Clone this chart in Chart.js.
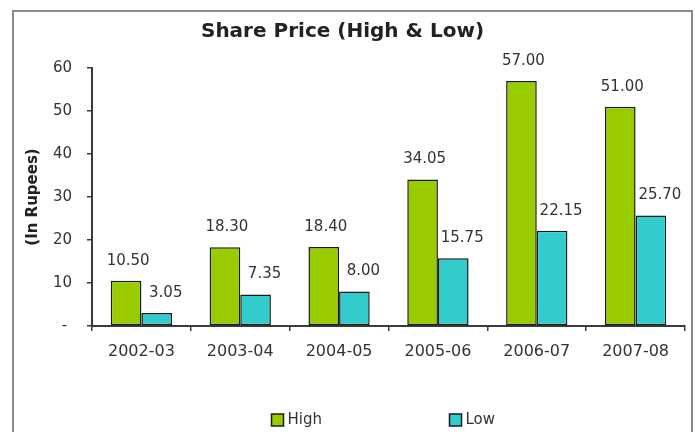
<!DOCTYPE html>
<html>
<head>
<meta charset="utf-8">
<script src="https://cdn.jsdelivr.net/npm/chart.js@4/dist/chart.umd.min.js"></script>
<style>
  html, body { margin: 0; padding: 0; background: #fff; }
</style>
</head>
<body>
<canvas id="chart-share" width="695" height="432"></canvas>
<script>
// ── Share price (High & Low) per financial year, in rupees ──────────────────
const YEARS   = ['2002-03', '2003-04', '2004-05', '2005-06', '2006-07', '2007-08'];
const HIGH    = [10.50, 18.30, 18.40, 34.05, 57.00, 51.00];
const LOW     = [3.05, 7.35, 8.00, 15.75, 22.15, 25.70];
const Y_TICKS = [0, 10, 20, 30, 40, 50, 60];

const FONT = "'DejaVu Sans', sans-serif";
const TEXT = '#333';
const AXIS = '#3a3a3a';

// Grey frame around the whole chart
const framePlugin = {
  id: 'frame',
  beforeDraw(chart) {
    const { ctx } = chart;
    ctx.save();
    ctx.fillStyle = '#fff';
    ctx.fillRect(0, 0, chart.width, chart.height);
    ctx.strokeStyle = '#8a8a8a';
    ctx.lineWidth = 2;
    ctx.strokeRect(13, 11, 679, 440);
    ctx.restore();
  },
};

// Value above every bar (Low labels sit a little to the right, Excel style)
const LABEL_SHIFT = [2, 9];
const valueLabels = {
  id: 'valueLabels',
  afterDatasetsDraw(chart) {
    const { ctx } = chart;
    ctx.save();
    ctx.font = `15px ${FONT}`;
    ctx.fillStyle = TEXT;
    ctx.textAlign = 'center';
    ctx.textBaseline = 'middle';
    chart.data.datasets.forEach((ds, i) => {
      chart.getDatasetMeta(i).data.forEach((bar, j) => {
        ctx.fillText(ds.data[j].toFixed(2), bar.x + LABEL_SHIFT[i], bar.y - 20);
      });
    });
    ctx.restore();
  },
};

// Legend under the axis, items spread wide apart
const bottomLegend = {
  id: 'bottomLegend',
  afterDraw(chart) {
    const { ctx, chartArea } = chart;
    const cx = (chartArea.left + chartArea.right) / 2;
    const y = 420;
    ctx.save();
    ctx.font = `15px ${FONT}`;
    ctx.textBaseline = 'middle';
    ctx.textAlign = 'left';
    chart.data.datasets.forEach((ds, i) => {
      const x = Math.round(cx - 118 + i * 178) + 0.5;
      ctx.fillStyle = ds.backgroundColor;
      ctx.fillRect(x, y - 6, 12, 12);
      ctx.strokeStyle = '#1a1a1a';
      ctx.lineWidth = 1.5;
      ctx.strokeRect(x, y - 6, 12, 12);
      ctx.fillStyle = TEXT;
      ctx.fillText(ds.label, x + 16, y);
    });
    ctx.restore();
  },
};

new Chart(document.getElementById('chart-share'), {
  type: 'bar',
  data: {
    labels: YEARS,
    datasets: [
      { label: 'High', data: HIGH, backgroundColor: '#99cc00' },
      { label: 'Low',  data: LOW,  backgroundColor: '#33cccc' },
    ],
  },
  options: {
    responsive: false,
    devicePixelRatio: 1,
    animation: false,
    layout: { padding: { top: 0, left: 0, right: 10, bottom: 0 } },
    datasets: {
      bar: {
        borderColor: '#1a1a1a',
        borderWidth: 1.5,
        borderSkipped: false,
        categoryPercentage: 0.62,
        barPercentage: 1,
      },
    },
    plugins: {
      legend: { display: false },
      tooltip: { enabled: false },
      title: {
        display: true,
        text: 'Share Price (High & Low)',
        color: '#222',
        font: { family: FONT, size: 20, weight: 'bold' },
        padding: { top: 20, bottom: 24 },
      },
    },
    scales: {
      x: {
        grid: { offset: true, drawOnChartArea: false, tickLength: 5, color: AXIS, lineWidth: 1.5 },
        border: { color: AXIS, width: 2 },
        ticks: { color: TEXT, padding: 11, font: { family: FONT, size: 16 } },
        afterFit: s => { s.height = 106; },
      },
      y: {
        min: 0,
        max: 60,
        afterBuildTicks: s => { s.ticks = Y_TICKS.map(v => ({ value: v })); },
        grid: { drawOnChartArea: false, tickLength: 5, color: AXIS, lineWidth: 1.5 },
        border: { color: AXIS, width: 2 },
        ticks: {
          color: TEXT,
          padding: 15,
          font: { family: FONT, size: 15 },
          callback: v => (v === 0 ? '- ' : v),
        },
        title: {
          display: true,
          text: '(In Rupees)',
          color: '#222',
          font: { family: FONT, size: 15, weight: 'bold' },
          padding: { top: 24, bottom: 0 },
        },
        afterFit: s => { s.width = 92; },
      },
    },
  },
  plugins: [framePlugin, valueLabels, bottomLegend],
});
</script>
</body>
</html>
